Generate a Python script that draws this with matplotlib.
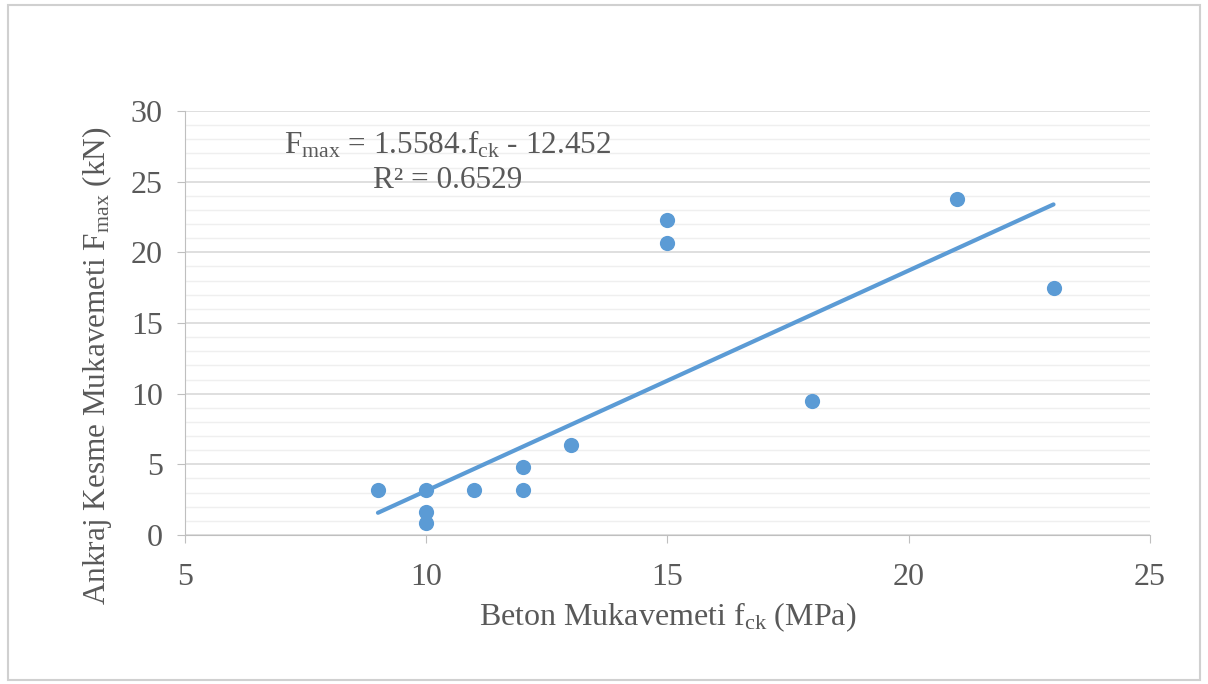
import matplotlib.pyplot as plt
import numpy as np
from matplotlib.patches import Rectangle

plt.rcParams['font.family'] = ['Liberation Serif', 'DejaVu Serif']
plt.rcParams['mathtext.fontset'] = 'custom'
plt.rcParams['mathtext.rm'] = 'Liberation Serif'
plt.rcParams['mathtext.it'] = 'Liberation Serif:italic'

# data
fck = [9, 10, 10, 10, 11, 12, 12, 13, 15, 15, 18, 21, 23]
fmax = [3.2, 3.2, 1.6, 0.85, 3.2, 4.8, 3.2, 6.4, 22.3, 20.65, 9.5, 23.8, 17.45]

# trendline from the chart's equation
slope = 1.5584
intercept = -12.452
r2 = 0.6529

blue = '#5b9bd5'
gray_text = '#595959'

fig = plt.figure(figsize=(12.08, 6.84), dpi=100)
fig.patches.append(Rectangle((0.007, 0.006), 0.986, 0.986, transform=fig.transFigure,
                             fill=False, edgecolor='#d0d0d0', linewidth=1.5))
ax = fig.add_axes([0.1531, 0.2178, 0.7989, 0.6199])

ax.scatter(fck, fmax, s=120, color=blue, zorder=3, linewidths=0)
x_line = np.array([min(fck), max(fck)])
ax.plot(x_line, slope * x_line + intercept, color=blue, linewidth=3, zorder=2,
        solid_capstyle='round')

ax.set_xlim(5, 25)
ax.set_ylim(0, 30)
ax.set_xticks(np.arange(5, 26, 5))
ax.set_yticks(np.arange(0, 31, 5))
ax.set_yticks(np.arange(0, 31, 1), minor=True)
ax.grid(axis='y', which='major', color='#d9d9d9', linewidth=1.2)
ax.grid(axis='y', which='minor', color='#efefef', linewidth=1)
ax.set_axisbelow(True)

for s in ['top', 'right']:
    ax.spines[s].set_visible(False)
for s in ['left', 'bottom']:
    ax.spines[s].set_color('#bfbfbf')
ax.tick_params(axis='both', which='major', length=6, color='#bfbfbf',
               labelsize=23, labelcolor=gray_text)
ax.tick_params(axis='x', pad=14)
ax.tick_params(axis='y', pad=10)
ax.tick_params(axis='y', which='minor', length=0)

ax.set_xlabel('Beton Mukavemeti $\\mathrm{f_{ck}}$ (MPa)', fontsize=23, color=gray_text, labelpad=6)
ax.set_ylabel('Ankraj Kesme Mukavemeti $\\mathrm{F_{max}}$ (kN)', fontsize=22.5, color=gray_text)
ax.yaxis.set_label_coords(-0.073, 0.40)

eq = '$\\mathrm{F_{max}}$ = %.4f.$\\mathrm{f_{ck}}$ - %.3f' % (slope, -intercept)
ax.text(10.45, 27.6, eq, fontsize=22.5, color=gray_text, ha='center', va='center')
ax.text(10.45, 25.05, 'R² = %.4f' % r2, fontsize=22.5, color=gray_text, ha='center', va='center')

fig.savefig('out.png', dpi=100)
